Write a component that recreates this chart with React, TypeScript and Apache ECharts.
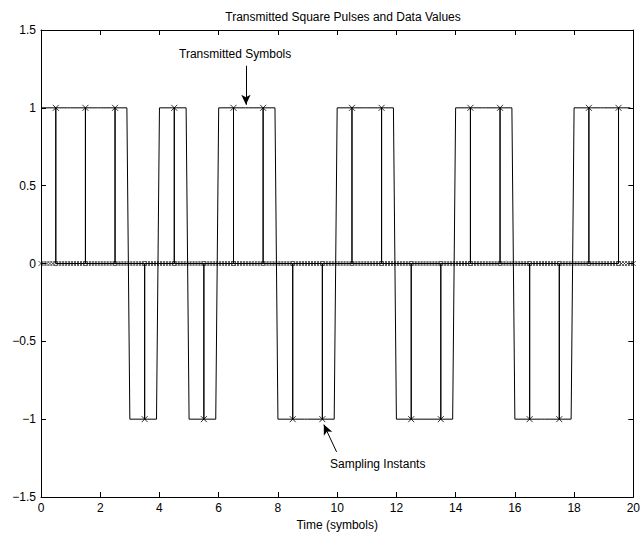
import React, { useEffect, useRef } from "react";
import * as echarts from "echarts";

// Transmitted data symbols (one per symbol period)
const symbols = [1, 1, 1, -1, 1, -1, 1, 1, -1, -1, 1, 1, -1, -1, 1, 1, -1, -1, 1, 1];
// Pulse holds its value for this fraction of the period, then ramps to the next
const pulseHold = 0.9;
// Sampling instant inside each symbol period
const sampleOffset = 0.5;
// Oversampling grid (samples per symbol)
const samplesPerSymbol = 10;
const xTicks = [0, 2, 4, 6, 8, 10, 12, 14, 16, 18, 20];
const yTicks = [-1.5, -1, -0.5, 0, 0.5, 1, 1.5];

const FONT = "Liberation Sans, Arial, Helvetica, sans-serif";
const X_MARK = "path://M0,0L10,10M10,0L0,10";

export default function App() {
  const ref = useRef<HTMLDivElement>(null);
  useEffect(() => {
    if (!ref.current) return;
    const chart = echarts.init(ref.current, undefined, { renderer: "svg" });

    const pulse: number[][] = [];
    symbols.forEach((v, k) => {
      pulse.push([k, v]);
      pulse.push([k + pulseHold, v]);
    });

    const stems: number[][] = [];
    const tops: number[][] = [];
    const zeroCircles: number[][] = [];
    symbols.forEach((v, k) => {
      const t = k + sampleOffset;
      stems.push([t, 0], [t, v], [t, 0]);
      tops.push([t, v]);
      zeroCircles.push([t, 0]);
    });

    const zeroSamples: number[][] = [];
    for (let i = 0; i <= symbols.length * samplesPerSymbol; i++) {
      zeroSamples.push([i / samplesPerSymbol, 0]);
    }

    const fmt = (v: number) => String(v).replace("-", "\u2212");

    const axisCommon = {
      axisLine: { show: true, onZero: false, lineStyle: { color: "#000", width: 1 } },
      axisTick: { show: true, inside: true, length: 5, lineStyle: { color: "#000" } },
      splitLine: { show: false },
    };

    chart.setOption({
      animation: false,
      backgroundColor: "#fff",
      grid: { left: 41, right: 7, top: 30, bottom: 41, containLabel: false },
      title: {
        text: "Transmitted Square Pulses and Data Values",
        left: 338,
        top: 6,
        textAlign: "center",
        textStyle: { fontFamily: FONT, fontSize: 12, fontWeight: "normal", color: "#000" },
      },
      xAxis: [
        {
          type: "value",
          min: xTicks[0],
          max: xTicks[xTicks.length - 1],
          interval: 2,
          position: "bottom",
          ...axisCommon,
          axisLabel: { color: "#000", fontFamily: FONT, fontSize: 12, margin: 5 },
          name: "Time (symbols)",
          nameLocation: "middle",
          nameGap: 22,
          nameTextStyle: { color: "#000", fontFamily: FONT, fontSize: 12 },
        },
        {
          type: "value",
          min: xTicks[0],
          max: xTicks[xTicks.length - 1],
          interval: 2,
          position: "top",
          ...axisCommon,
          axisLabel: { show: false },
        },
      ],
      yAxis: [
        {
          type: "value",
          min: yTicks[0],
          max: yTicks[yTicks.length - 1],
          interval: 0.5,
          position: "left",
          ...axisCommon,
          axisLabel: { color: "#000", fontFamily: FONT, fontSize: 12, margin: 5, formatter: fmt },
        },
        {
          type: "value",
          min: yTicks[0],
          max: yTicks[yTicks.length - 1],
          interval: 0.5,
          position: "right",
          ...axisCommon,
          axisLabel: { show: false },
        },
      ],
      graphic: [
        {
          type: "text",
          left: 179,
          top: 48,
          style: { text: "Transmitted Symbols", font: `12px ${FONT}`, fill: "#000" },
        },
        {
          type: "text",
          left: 330,
          top: 458,
          style: { text: "Sampling Instants", font: `12px ${FONT}`, fill: "#000" },
        },
      ],
      series: [
        {
          type: "line",
          data: pulse,
          showSymbol: false,
          lineStyle: { color: "#000", width: 1 },
          silent: true,
          markLine: {
            silent: true,
            symbol: ["none", "arrow"],
            symbolSize: [7, 10],
            label: { show: false },
            lineStyle: { color: "#000", width: 1, type: "solid" },
            data: [
              [{ coord: [6.92, 1.27] }, { coord: [6.92, 1.02] }],
              [{ coord: [9.98, -1.21] }, { coord: [9.55, -1.035] }],
            ],
          },
        },
        {
          type: "line",
          data: stems,
          showSymbol: false,
          lineStyle: { color: "#000", width: 1 },
          silent: true,
        },
        {
          type: "scatter",
          data: zeroSamples,
          symbol: X_MARK,
          symbolSize: 5,
          itemStyle: { color: "none", borderColor: "#000", borderWidth: 0.8 },
          silent: true,
        },
        {
          type: "scatter",
          data: zeroCircles,
          symbol: "circle",
          symbolSize: 4,
          itemStyle: { color: "#fff", borderColor: "#000", borderWidth: 0.8 },
          silent: true,
        },
        {
          type: "scatter",
          data: tops,
          symbol: X_MARK,
          symbolSize: 6,
          itemStyle: { color: "none", borderColor: "#000", borderWidth: 1 },
          silent: true,
        },
      ],
    });
    return () => chart.dispose();
  }, []);
  return (
    <div
      ref={ref}
      style={{ position: "absolute", left: 0, top: 0, width: 643, height: 538 }}
    />
  );
}
